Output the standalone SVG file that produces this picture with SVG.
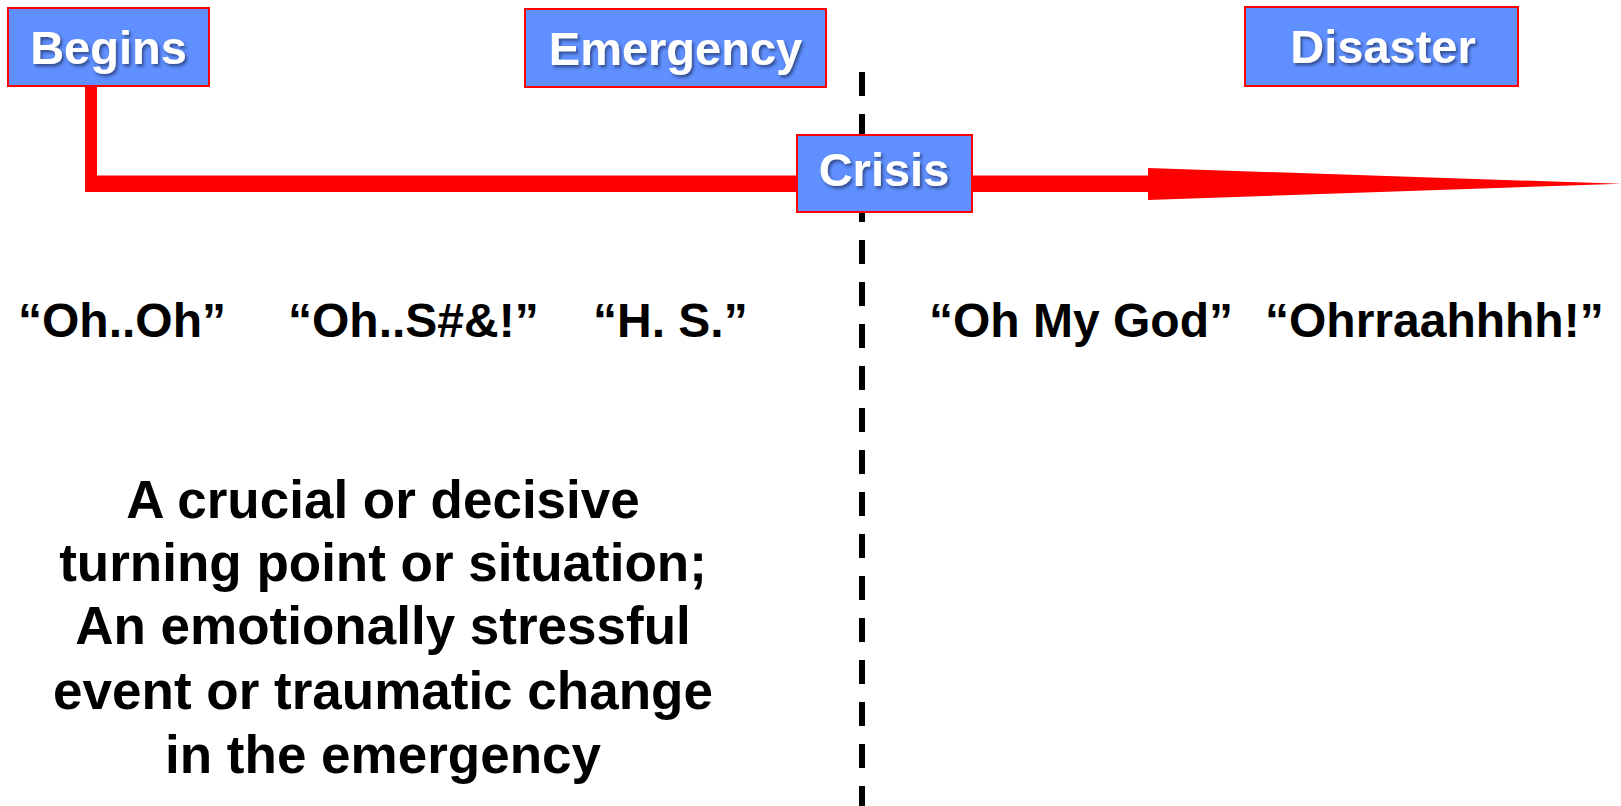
<svg xmlns="http://www.w3.org/2000/svg" width="1621" height="806" viewBox="0 0 1621 806">
<defs>
<filter id="sh" x="-10%" y="-20%" width="130%" height="150%">
<feDropShadow dx="2" dy="2.5" stdDeviation="1.5" flood-color="#1a2a55" flood-opacity="0.65"/>
</filter>
</defs>
<style>
.box{fill:#6090ff;stroke:#ff0000;stroke-width:2}
.lbl{font-family:"Liberation Sans",Arial,sans-serif;font-weight:bold;font-size:47px;fill:#ffffff;text-anchor:middle;filter:url(#sh)}
.q{font-family:"Liberation Sans",Arial,sans-serif;font-weight:bold;font-size:48px;fill:#000000}
.body{font-family:"Liberation Sans",Arial,sans-serif;font-weight:bold;font-size:53px;fill:#000000;text-anchor:middle}
</style>
<rect width="1621" height="806" fill="#ffffff"/>
<g id="connectors">
<path d="M85,86 L97,86 L97,175.5 L1148,175.5 L1148,168 L1621,183.8 L1148,200 L1148,192 L85,192 Z" fill="#ff0000"/>
<line x1="862" y1="72" x2="862" y2="806" stroke="#000000" stroke-width="6" stroke-dasharray="24 18"/>
</g>
<g id="begins">
<rect class="box" x="8" y="8" width="201" height="78"/>
<text class="lbl" x="108.5" y="64">Begins</text>
</g>
<g id="emergency">
<rect class="box" x="525" y="9" width="301" height="78"/>
<text class="lbl" x="675.5" y="65">Emergency</text>
</g>
<g id="crisis">
<rect class="box" x="797" y="135" width="175" height="77"/>
<text class="lbl" x="884" y="186">Crisis</text>
</g>
<g id="disaster">
<rect class="box" x="1245" y="7" width="273" height="79"/>
<text class="lbl" x="1383" y="63">Disaster</text>
</g>
<g id="quotes">
<text class="q" x="18" y="337">“Oh..Oh”</text>
<text class="q" x="288" y="337">“Oh..S#&amp;!”</text>
<text class="q" x="593" y="337">“H. S.”</text>
<text class="q" x="929" y="337">“Oh My God”</text>
<text class="q" x="1265" y="337">“Ohrraahhhh!”</text>
</g>
<g id="definition">
<text class="body" x="383" y="518">A crucial or decisive</text>
<text class="body" x="383" y="581">turning point or situation;</text>
<text class="body" x="383" y="644">An emotionally stressful</text>
<text class="body" x="383" y="709">event or traumatic change</text>
<text class="body" x="383" y="773">in the emergency</text>
</g>
</svg>
